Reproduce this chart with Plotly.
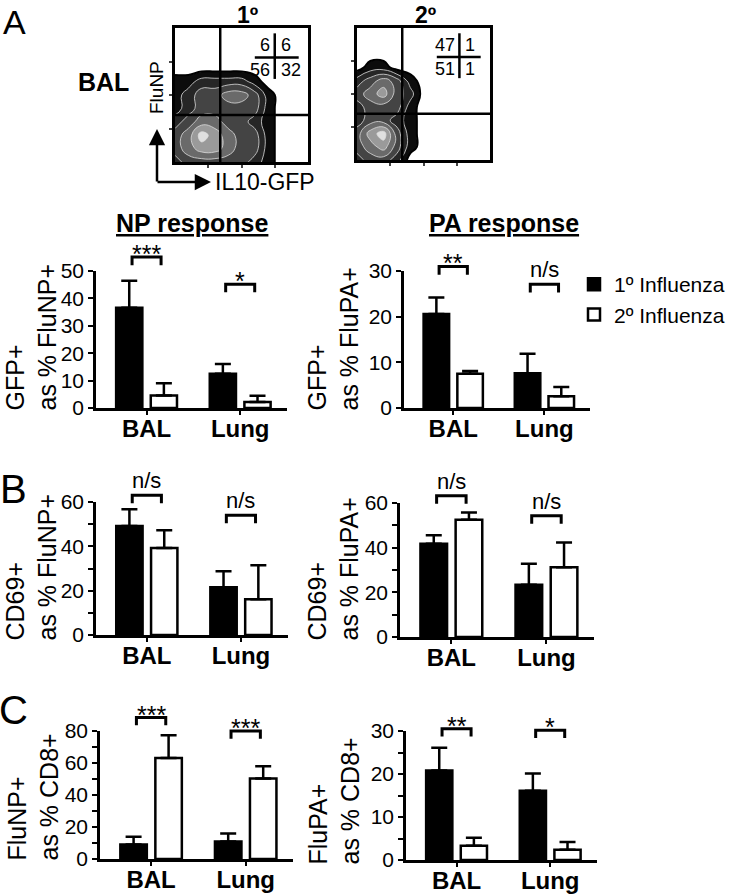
import plotly.graph_objects as go

W, H = 735, 896
FONT = "Liberation Sans, Arial, sans-serif"

# ---------------- data ----------------
categories = ["BAL", "Lung"]
series_names = ["1º Influenza", "2º Influenza"]

# A: GFP+ (IL-10) as % of tetramer+
np_gfp_primary = [36.6, 12.5]
np_gfp_primary_err = [9.8, 3.6]
np_gfp_secondary = [4.6, 2.2]
np_gfp_secondary_err = [4.4, 2.3]
np_gfp_sig = ["***", "*"]
np_gfp_sig_y = [55.1, 45.2]

pa_gfp_primary = [20.6, 7.6]
pa_gfp_primary_err = [3.6, 4.3]
pa_gfp_secondary = [7.5, 2.6]
pa_gfp_secondary_err = [0.6, 2.0]
pa_gfp_sig = ["**", "n/s"]
pa_gfp_sig_y = [31.0, 27.1]

# B: CD69+
np_cd69_primary = [49.2, 21.5]
np_cd69_primary_err = [7.5, 7.3]
np_cd69_secondary = [39.3, 16.1]
np_cd69_secondary_err = [8.0, 15.4]
np_cd69_sig = ["n/s", "n/s"]
np_cd69_sig_y = [63.0, 54.0]

pa_cd69_primary = [41.7, 23.4]
pa_cd69_primary_err = [3.9, 9.4]
pa_cd69_secondary = [52.5, 31.2]
pa_cd69_secondary_err = [3.3, 11.1]
pa_cd69_sig = ["n/s", "n/s"]
pa_cd69_sig_y = [63.3, 54.3]

# C: tetramer+ as % CD8+
np_cd8_primary = [9.1, 11.0]
np_cd8_primary_err = [4.8, 5.0]
np_cd8_secondary = [63.2, 50.3]
np_cd8_secondary_err = [14.1, 7.7]
np_cd8_sig = ["***", "***"]
np_cd8_sig_y = [88.4, 80.0]

pa_cd8_primary = [20.8, 16.1]
pa_cd8_primary_err = [5.3, 4.0]
pa_cd8_secondary = [3.3, 2.4]
pa_cd8_secondary_err = [1.9, 1.8]
pa_cd8_sig = ["**", "*"]
pa_cd8_sig_y = [30.5, 30.2]

# flow cytometry: coarse density levels (rows = FluNP bottom->top, cols = IL10-GFP left->right)
flow_grid = [0.0, 0.1, 0.2, 0.3, 0.4, 0.5, 0.6, 0.7, 0.8, 0.9, 1.0]
flow_primary_density = [
    [2, 3, 3, 3, 3, 3, 2, 1, 0, 0, 0],
    [3, 4, 5, 5, 4, 3, 3, 1, 0, 0, 0],
    [3, 4, 6, 5, 4, 3, 3, 1, 0, 0, 0],
    [2, 3, 4, 4, 3, 3, 2, 1, 0, 0, 0],
    [1, 2, 3, 3, 3, 3, 3, 1, 0, 0, 0],
    [1, 2, 3, 3, 4, 4, 3, 1, 0, 0, 0],
    [1, 1, 2, 2, 2, 2, 1, 0, 0, 0, 0],
    [0, 0, 0, 0, 0, 0, 0, 0, 0, 0, 0],
    [0, 0, 0, 0, 0, 0, 0, 0, 0, 0, 0],
    [0, 0, 0, 0, 0, 0, 0, 0, 0, 0, 0],
    [0, 0, 0, 0, 0, 0, 0, 0, 0, 0, 0],
]
flow_secondary_density = [
    [2, 3, 3, 2, 0, 0, 0, 0, 0, 0, 0],
    [3, 4, 5, 3, 1, 0, 0, 0, 0, 0, 0],
    [3, 5, 6, 3, 1, 0, 0, 0, 0, 0, 0],
    [2, 3, 3, 2, 1, 0, 0, 0, 0, 0, 0],
    [2, 3, 3, 3, 1, 0, 0, 0, 0, 0, 0],
    [3, 4, 5, 3, 2, 0, 0, 0, 0, 0, 0],
    [2, 3, 4, 3, 1, 0, 0, 0, 0, 0, 0],
    [0, 1, 1, 0, 0, 0, 0, 0, 0, 0, 0],
    [0, 0, 0, 0, 0, 0, 0, 0, 0, 0, 0],
    [0, 0, 0, 0, 0, 0, 0, 0, 0, 0, 0],
    [0, 0, 0, 0, 0, 0, 0, 0, 0, 0, 0],
]
flow_primary_quadrants = [["6", "6"], ["56", "32"]]
flow_secondary_quadrants = [["47", "1"], ["51", "1"]]
flow_gate_x = 0.34
flow_gate_y = 0.35


def px_x(px):
    return px / W


def px_y(py):
    return 1 - py / H


def ann(**kw):
    base = dict(showarrow=False, xanchor="center", yanchor="middle")
    base.update(kw)
    return base


fig = go.Figure()
layout = dict(
    width=W, height=H, margin=dict(l=0, r=0, t=0, b=0, pad=0, autoexpand=False),
    paper_bgcolor="white", plot_bgcolor="white",
    font=dict(family=FONT, color="black", size=20),
    barmode="overlay", showlegend=True,
)
annotations = []
shapes = []

# ---------------- flow plots ----------------
zebra = [[0, "#ffffff"], [0.064, "#ffffff"],
         [0.071, "#0c0c0c"], [0.2, "#0c0c0c"],
         [0.214, "#262626"], [0.343, "#262626"],
         [0.357, "#444444"], [0.486, "#444444"],
         [0.5, "#6a6a6a"], [0.629, "#6a6a6a"],
         [0.643, "#9a9a9a"], [0.771, "#9a9a9a"],
         [0.786, "#e0e0e0"], [1, "#e0e0e0"]]
flow_specs = [
    dict(n=1, dens=flow_primary_density, quad=flow_primary_quadrants, xdom=(175, 308), ydom=(162, 28),
         title="1º", tx=247, cross_x=0.75),
    dict(n=2, dens=flow_secondary_density, quad=flow_secondary_quadrants, xdom=(357, 490), ydom=(160, 28),
         title="2º", tx=425, cross_x=0.77),
]
for fs in flow_specs:
    n = fs["n"]
    xa = "x" if n == 1 else f"x{n}"
    ya = "y" if n == 1 else f"y{n}"
    xk = "xaxis" if n == 1 else f"xaxis{n}"
    yk = "yaxis" if n == 1 else f"yaxis{n}"
    fig.add_trace(go.Contour(
        z=fs["dens"], x=flow_grid, y=flow_grid, xaxis=xa, yaxis=ya,
        contours=dict(start=0.5, end=6.5, size=1, coloring="fill"),
        colorscale=zebra,
        line=dict(color="#dddddd", width=0.8), line_smoothing=1.3,
        showscale=False, showlegend=False, hoverinfo="skip"))
    fig.add_trace(go.Contour(
        z=fs["dens"], x=flow_grid, y=flow_grid, xaxis=xa, yaxis=ya,
        contours=dict(start=0.5, end=0.5, size=1, coloring="none"),
        line=dict(color="black", width=2), line_smoothing=1.3,
        showscale=False, showlegend=False, hoverinfo="skip"))
    axcommon = dict(range=[0, 1], showgrid=False, zeroline=False, showline=True, mirror=True,
                    linewidth=2.5, linecolor="black", ticks="outside", ticklen=3, tickwidth=1.5,
                    tickvals=[0.25, 0.5, 0.75], showticklabels=False, fixedrange=True)
    layout[xk] = dict(axcommon, domain=[px_x(fs["xdom"][0]), px_x(fs["xdom"][1])], anchor=ya)
    layout[yk] = dict(axcommon, domain=[px_y(fs["ydom"][0]), px_y(fs["ydom"][1])], anchor=xa)
    # gates
    shapes.append(dict(type="line", xref=xa, yref=ya, x0=flow_gate_x, x1=flow_gate_x, y0=0, y1=1,
                       line=dict(color="black", width=2.5)))
    shapes.append(dict(type="line", xref=xa, yref=ya, x0=0, x1=1, y0=flow_gate_y, y1=flow_gate_y,
                       line=dict(color="black", width=2.5)))
    # quadrant inset
    cx = fs["cross_x"]
    shapes.append(dict(type="line", xref=xa, yref=ya, x0=cx, x1=cx, y0=0.62, y1=0.96,
                       line=dict(color="black", width=2.5)))
    shapes.append(dict(type="line", xref=xa, yref=ya, x0=0.6, x1=0.93, y0=0.78, y1=0.78,
                       line=dict(color="black", width=2.5)))
    for r, yy in enumerate([0.87, 0.69]):
        annotations.append(ann(xref=xa, yref=ya, x=cx - 0.02, y=yy, text=fs["quad"][r][0],
                               xanchor="right", font=dict(size=18)))
        annotations.append(ann(xref=xa, yref=ya, x=cx + 0.03, y=yy, text=fs["quad"][r][1],
                               xanchor="left", font=dict(size=18)))
    annotations.append(ann(xref="paper", yref="paper", x=px_x(fs["tx"]), y=px_y(15), text=fs["title"],
                           font=dict(size=23, weight="bold")))

annotations += [
    ann(xref="paper", yref="paper", x=px_x(103), y=px_y(82), text="BAL", font=dict(size=25, weight="bold")),
    ann(xref="paper", yref="paper", x=px_x(157), y=px_y(88), text="FluNP", textangle=-90, font=dict(size=19)),
    ann(xref="paper", yref="paper", x=px_x(213), y=px_y(182), text="IL10-GFP", xanchor="left",
        font=dict(size=23)),
    dict(xref="paper", yref="paper", x=px_x(157), y=px_y(129), ax=0, ay=54, text="", showarrow=True,
         arrowhead=2, arrowsize=1.3, arrowwidth=2.5, arrowcolor="black"),
    dict(xref="paper", yref="paper", x=px_x(211), y=px_y(182), ax=-55, ay=0, text="", showarrow=True,
         arrowhead=2, arrowsize=1.3, arrowwidth=2.5, arrowcolor="black"),
    ann(xref="paper", yref="paper", x=px_x(15), y=px_y(22), text="A", font=dict(size=34)),
    ann(xref="paper", yref="paper", x=px_x(13), y=px_y(489), text="B", font=dict(size=40)),
    ann(xref="paper", yref="paper", x=px_x(13), y=px_y(710), text="C", font=dict(size=40)),
    ann(xref="paper", yref="paper", x=px_x(192), y=px_y(223), text="<u>NP response</u>",
        font=dict(size=25, weight="bold")),
    ann(xref="paper", yref="paper", x=px_x(504), y=px_y(223), text="<u>PA response</u>",
        font=dict(size=25, weight="bold")),
]

# ---------------- bar panels ----------------
cat_pos = list(range(len(categories)))
bar_width = 0.28
offsets = [-0.325, 0.045]
bracket_half = 0.155
bar_panels = [
    dict(n=3, prim=np_gfp_primary, prim_err=np_gfp_primary_err, sec=np_gfp_secondary, sec_err=np_gfp_secondary_err,
         sig=np_gfp_sig, sig_y=np_gfp_sig_y, ymax=50, dtick=10, minor=None,
         xdom=(96, 287), ydom=(408, 271), title="GFP+<br>as % FluNP+", tx=31, tb=413),
    dict(n=4, prim=pa_gfp_primary, prim_err=pa_gfp_primary_err, sec=pa_gfp_secondary, sec_err=pa_gfp_secondary_err,
         sig=pa_gfp_sig, sig_y=pa_gfp_sig_y, ymax=30, dtick=10, minor=None,
         xdom=(404, 590), ydom=(408, 271), title="GFP+<br>as % FluPA+", tx=333, tb=413),
    dict(n=5, prim=np_cd69_primary, prim_err=np_cd69_primary_err, sec=np_cd69_secondary, sec_err=np_cd69_secondary_err,
         sig=np_cd69_sig, sig_y=np_cd69_sig_y, ymax=60, dtick=20, minor=10,
         xdom=(96, 288), ydom=(635, 502), title="CD69+<br>as % FluNP+", tx=31, tb=643),
    dict(n=6, prim=pa_cd69_primary, prim_err=pa_cd69_primary_err, sec=pa_cd69_secondary, sec_err=pa_cd69_secondary_err,
         sig=pa_cd69_sig, sig_y=pa_cd69_sig_y, ymax=60, dtick=20, minor=10,
         xdom=(400, 594), ydom=(637, 503), title="CD69+<br>as % FluPA+", tx=333, tb=643),
    dict(n=7, prim=np_cd8_primary, prim_err=np_cd8_primary_err, sec=np_cd8_secondary, sec_err=np_cd8_secondary_err,
         sig=np_cd8_sig, sig_y=np_cd8_sig_y, ymax=80, dtick=20, minor=10,
         xdom=(100, 293), ydom=(859, 731), title="FluNP+<br>as % CD8+", tx=33, tb=863),
    dict(n=8, prim=pa_cd8_primary, prim_err=pa_cd8_primary_err, sec=pa_cd8_secondary, sec_err=pa_cd8_secondary_err,
         sig=pa_cd8_sig, sig_y=pa_cd8_sig_y, ymax=30, dtick=10, minor=5,
         xdom=(406, 597), ydom=(860, 731), title="FluPA+<br>as % CD8+", tx=334, tb=867),
]

for p in bar_panels:
    n = p["n"]
    xa, ya = f"x{n}", f"y{n}"
    for k, (vals, errs, fill) in enumerate([(p["prim"], p["prim_err"], "black"),
                                            (p["sec"], p["sec_err"], "white")]):
        fig.add_trace(go.Bar(
            x=cat_pos, y=vals, width=bar_width, offset=offsets[k], xaxis=xa, yaxis=ya,
            name=series_names[k], showlegend=(n == 4),
            marker=dict(color=fill, line=dict(color="black", width=2.5)),
            error_y=dict(type="data", array=errs, arrayminus=[0] * len(errs), symmetric=False,
                         color="black", thickness=2.5, width=8),
            hoverinfo="skip"))
    drop = 0.06
    for i, c in enumerate(cat_pos):
        top = p["sig_y"][i] / p["ymax"]  # fraction of the y-axis domain
        x0, x1 = c - bracket_half, c + bracket_half
        shapes.append(dict(type="path", xref=xa, yref=f"{ya} domain",
                           path=f"M {x0},{top - drop} L {x0},{top} L {x1},{top} L {x1},{top - drop}",
                           line=dict(color="black", width=3)))
        is_star = "*" in p["sig"][i]
        annotations.append(ann(xref=xa, yref=f"{ya} domain", x=c, y=top, text=p["sig"][i],
                               yanchor="bottom", yshift=-13 if is_star else 0,
                               font=dict(size=25 if is_star else 22)))
    layout[f"xaxis{n}"] = dict(
        domain=[px_x(p["xdom"][0]), px_x(p["xdom"][1])], anchor=ya, range=[-0.54, 1.5],
        tickvals=cat_pos, ticktext=categories, ticks="outside", ticklen=4, tickwidth=2, tickcolor="black",
        showline=True, linewidth=2.5, linecolor="black", showgrid=False, zeroline=False,
        tickfont=dict(size=24, weight="bold"), ticklabelstandoff=-7, fixedrange=True)
    yax = dict(
        domain=[px_y(p["ydom"][0]), px_y(p["ydom"][1])], anchor=xa, range=[0, p["ymax"]],
        dtick=p["dtick"], tick0=0, ticks="outside", ticklen=5, tickwidth=2, tickcolor="black",
        showline=True, linewidth=2.5, linecolor="black", showgrid=False, zeroline=False,
        tickfont=dict(size=21), fixedrange=True)
    if p["minor"]:
        yax["minor"] = dict(dtick=p["minor"], tick0=0, ticks="outside", ticklen=5, tickwidth=2,
                            tickcolor="black", showgrid=False)
    layout[f"yaxis{n}"] = yax
    annotations.append(ann(xref="paper", yref="paper", x=px_x(p["tx"]), y=px_y(p["tb"]), text=p["title"],
                           textangle=-90, align="left", yanchor="bottom", font=dict(size=25)))

layout["legend"] = dict(x=px_x(574), y=px_y(264), xanchor="left", yanchor="top", tracegroupgap=0,
                        font=dict(size=21), bgcolor="rgba(0,0,0,0)", itemclick=False)
layout["annotations"] = annotations
layout["shapes"] = shapes
fig.update_layout(**layout)
fig.write_html("out.html", config={"displayModeBar": False},
               post_script="document.body.style.margin='0';")
